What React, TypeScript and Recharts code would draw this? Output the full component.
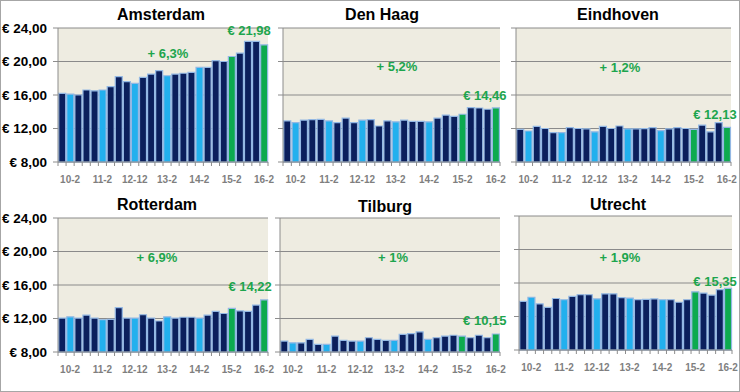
import React from "react";
import { BarChart, Bar, XAxis, YAxis, CartesianGrid, Cell, LabelList } from "recharts";

// quarters, 09-11 .. 16-2 (the chart itself labels the 2012 february quarter "12-12")
const periods = [
  "09-11", "10-2", "10-5", "10-8", "10-11", "11-2", "11-5", "11-8", "11-11",
  "12-12", "12-5", "12-8", "12-11", "13-2", "13-5", "13-8", "13-11",
  "14-2", "14-5", "14-8", "14-11", "15-2", "15-5", "15-8", "15-11", "16-2",
];
const tickLabels = ["10-2", "11-2", "12-12", "13-2", "14-2", "15-2", "16-2"];
// base = dark blue, feb = february quarter (light blue), recent = last two februaries (green)
const periodKind = [
  "base", "feb", "base", "base", "base", "feb", "base", "base", "base",
  "feb", "base", "base", "base", "feb", "base", "base", "base",
  "feb", "base", "base", "base", "recent", "base", "base", "base", "recent",
];

const amsterdam = [16.2, 16.1, 16.0, 16.6, 16.5, 16.6, 17.0, 18.2, 17.6, 17.4, 18.1, 18.5, 18.9, 18.3, 18.5, 18.6, 18.7, 19.3, 19.3, 20.1, 20.0, 20.6, 21.0, 22.4, 22.4, 21.98];
const denHaag = [12.9, 12.7, 13.0, 13.05, 13.1, 12.9, 12.7, 13.25, 12.7, 13.0, 13.05, 12.3, 12.9, 12.8, 13.0, 12.85, 12.85, 12.8, 13.25, 13.6, 13.45, 13.7, 14.5, 14.45, 14.3, 14.46];
const eindhoven = [11.9, 11.7, 12.25, 12.0, 11.5, 11.5, 12.1, 12.0, 11.95, 11.6, 12.25, 12.0, 12.3, 11.95, 11.95, 11.98, 12.1, 11.75, 11.95, 12.1, 12.0, 11.9, 12.4, 11.6, 12.7, 12.13];
const rotterdam = [12.05, 12.2, 12.05, 12.4, 12.05, 11.85, 11.9, 13.3, 12.05, 12.05, 12.45, 12.05, 11.7, 12.2, 12.05, 12.15, 12.15, 12.05, 12.4, 12.85, 12.6, 13.2, 12.9, 12.85, 13.6, 14.22];
const tilburg = [9.3, 9.1, 9.1, 9.5, 8.9, 8.9, 9.9, 9.4, 9.3, 9.3, 9.7, 9.5, 9.4, 9.4, 10.1, 10.2, 10.4, 9.5, 9.7, 9.9, 10.0, 9.9, 9.7, 10.0, 9.7, 10.15];
const utrecht = [13.8, 14.3, 13.5, 13.1, 14.15, 14.0, 14.4, 14.6, 14.6, 14.1, 14.7, 14.7, 14.25, 14.2, 14.0, 14.05, 14.1, 14.0, 14.0, 13.7, 14.0, 14.95, 14.8, 14.55, 15.2, 15.35];

const growth = ["+ 6,3%", "+ 5,2%", "+ 1,2%", "+ 6,9%", "+ 1%", "+ 1,9%"];
const yTicks = [8, 12, 16, 20, 24];

const FONT = "'Liberation Sans', Arial, sans-serif";
const AXIS = "#8C8C8C";
const GRID = "#8A8A8A";
const BEIGE = "#EEECE1";
const OUTLINE = "#93B8E4";
const GREEN_TEXT = "#1DA54D";
const KIND_COLORS: Record<string, string> = {
  base: "#0B1F5C",
  feb: "#22B0EE",
  recent: "#0DAA4F",
};

const euro = (v: number) => "€ " + v.toFixed(2).replace(".", ",");

const panels = [
  { name: "Amsterdam", values: amsterdam, growth: growth[0], x0: 58, x1: 268, y0: 28, y1: 162, showY: true, tx: 161, ty: 15, gx: 168, gy: 53, dx: -15, dy: -14 },
  { name: "Den Haag", values: denHaag, growth: growth[1], x0: 283, x1: 500, y0: 28, y1: 162, showY: false, tx: 382, ty: 15, gx: 397, gy: 66, dx: -11, dy: -12 },
  { name: "Eindhoven", values: eindhoven, growth: growth[2], x0: 516, x1: 731, y0: 28, y1: 162, showY: false, tx: 618, ty: 15, gx: 620, gy: 67, dx: -12, dy: -13 },
  { name: "Rotterdam", values: rotterdam, growth: growth[3], x0: 58, x1: 268, y0: 218, y1: 352, showY: true, tx: 157, ty: 205, gx: 157, gy: 257, dx: -14, dy: -13 },
  { name: "Tilburg", values: tilburg, growth: growth[4], x0: 280, x1: 500, y0: 218, y1: 352, showY: false, tx: 385, ty: 207, gx: 393, gy: 257, dx: -11, dy: -13 },
  { name: "Utrecht", values: utrecht, growth: growth[5], x0: 519, x1: 732, y0: 216, y1: 350, showY: false, tx: 618, ty: 205, gx: 620, gy: 257, dx: -13, dy: -7 },
];

function XTick(props: any) {
  const { x, y, payload, index, step, last } = props;
  return (
    <g>
      <line x1={x - step / 2} x2={x - step / 2} y1={y} y2={y + 4} stroke={AXIS} />
      {index === last && <line x1={x + step / 2} x2={x + step / 2} y1={y} y2={y + 4} stroke={AXIS} />}
      {tickLabels.includes(payload.value) && (
        <text x={x} y={y + 17} textAnchor="middle" dominantBaseline="central" fill="#7F7F7F" fontSize={10} fontWeight={700} fontFamily={FONT}>
          {payload.value}
        </text>
      )}
    </g>
  );
}

function Panel({ p }: { p: (typeof panels)[number] }) {
  const yw = 58;
  const padRight = 20;
  const left = p.x0 - yw;
  const top = p.y0 - 10;
  const width = p.x1 - left + padRight;
  const height = p.y1 - top + 25;
  const step = (p.x1 - p.x0) / periods.length;
  const last = periods.length - 1;
  const data = periods.map((period, i) => ({ period, price: p.values[i], kind: periodKind[i] }));

  return (
    <>
      <div style={{ position: "absolute", left, top }}>
        <BarChart
          width={width}
          height={height}
          data={data}
          margin={{ top: 10, right: padRight, left: 0, bottom: 0 }}
          barCategoryGap="9%"
          style={{ overflow: "visible" }}
        >
          <CartesianGrid vertical={false} fill={BEIGE} fillOpacity={1} stroke={GRID} />
          <XAxis
            dataKey="period"
            interval={0}
            height={25}
            tickSize={0}
            tickMargin={0}
            tickLine={false}
            axisLine={{ stroke: AXIS }}
            tick={(t: any) => <XTick {...t} step={step} last={last} />}
          />
          <YAxis
            type="number"
            domain={[8, 24]}
            ticks={yTicks}
            width={yw}
            tickSize={5}
            tickMargin={6}
            axisLine={{ stroke: AXIS }}
            tickLine={{ stroke: AXIS }}
            tick={{ fill: "#000", fontSize: 13.5, fontWeight: 700, fontFamily: FONT }}
            tickFormatter={(v: number) => (p.showY ? euro(v) : "")}
          />
          <Bar dataKey="price" isAnimationActive={false} stroke={OUTLINE} strokeWidth={1.2}>
            {data.map((d, i) => (
              <Cell key={i} fill={KIND_COLORS[d.kind]} />
            ))}
            <LabelList
              dataKey="price"
              content={(lp: any) =>
                lp.index === last ? (
                  <text
                    x={lp.x + lp.width / 2 + p.dx}
                    y={lp.y + p.dy}
                    textAnchor="middle"
                    dominantBaseline="central"
                    fill={GREEN_TEXT}
                    fontSize={13}
                    fontWeight={700}
                    fontFamily={FONT}
                  >
                    {euro(lp.value)}
                  </text>
                ) : null
              }
            />
          </Bar>
        </BarChart>
      </div>
      <div style={{ position: "absolute", left: p.tx, top: p.ty, transform: "translate(-50%, -50%)", fontFamily: FONT, fontWeight: 700, fontSize: 16, color: "#000", whiteSpace: "nowrap", lineHeight: 1 }}>
        {p.name}
      </div>
      <div style={{ position: "absolute", left: p.gx, top: p.gy, transform: "translate(-50%, -50%)", fontFamily: FONT, fontWeight: 700, fontSize: 13, color: GREEN_TEXT, whiteSpace: "nowrap", lineHeight: 1 }}>
        {p.growth}
      </div>
    </>
  );
}

export default function App() {
  return (
    <div style={{ position: "absolute", left: 0, top: 0, width: 740, height: 392, background: "#fff", overflow: "hidden" }}>
      {panels.map((p) => (
        <Panel key={p.name} p={p} />
      ))}
      <div style={{ position: "absolute", left: 0, top: 0, width: 740, height: 392, boxSizing: "border-box", border: "1px solid #A6A6A6", pointerEvents: "none" }} />
    </div>
  );
}
